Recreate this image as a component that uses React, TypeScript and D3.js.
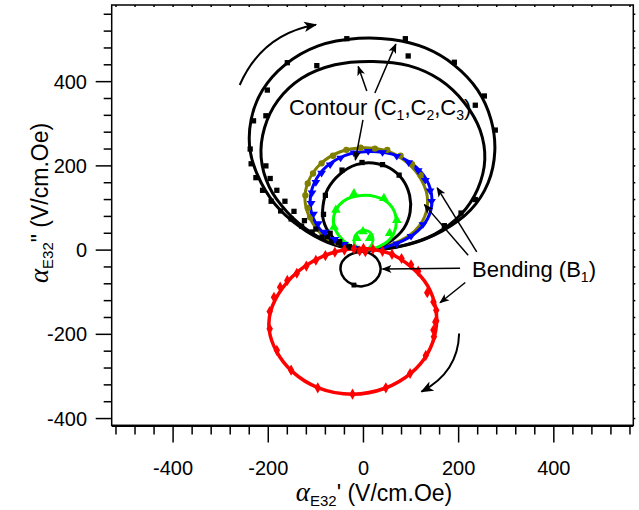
import React from 'react';
import * as d3 from 'd3';

type P = [number, number];

// contour modes: fitted loops (lines) and measured points (markers)
const c1Line: P[] = [[0, 0], [-60, 12], [-120, 45], [-175, 95], [-215, 160], [-238, 235], [-236, 310], [-212, 380], [-165, 440], [-95, 485], [-10, 503], [60, 500], [130, 480], [190, 440], [240, 380], [268, 310], [276, 235], [262, 160], [225, 95], [165, 45], [90, 12]];
const c2Line: P[] = [[0, 0], [-55, 12], [-110, 42], [-160, 90], [-198, 150], [-215, 220], [-208, 290], [-180, 355], [-130, 408], [-60, 440], [20, 448], [95, 438], [160, 405], [212, 350], [245, 285], [255, 215], [240, 145], [205, 85], [150, 38], [80, 10]];
const c12Pts: P[] = [[-35, 502], [88, 502], [94, 461], [191, 446], [-98, 438], [-160, 445], [-202, 380], [-205, 319], [-231, 307], [235, 344], [254, 366], [277, 285], [-238, 240], [-236, 205], [-226, 172], [-212, 142], [-194, 116], [-174, 93], [-152, 74], [-130, 57], [-108, 43], [-87, 31], [-67, 21], [-47, 13], [-29, 7], [-13, 3], [-205, 200], [-196, 170], [-182, 142], [-165, 116], [-146, 92], [-124, 70], [-100, 50], [-76, 32], [-52, 18], [-30, 8], [235, 120], [205, 88], [170, 58]];

const olLine: P[] = [[0, 0], [-45, 10], [-85, 35], [-112, 75], [-123, 121], [-115, 165], [-90, 205], [-50, 233], [0, 243], [45, 237], [85, 214], [115, 179], [134, 128], [128, 78], [99, 37], [50, 10]];
const olPts: P[] = [[-117, 100], [-122, 130], [-117, 158], [-106, 182], [-88, 206], [-64, 224], [-36, 238], [-6, 243], [24, 241], [50, 238], [78, 224], [102, 204], [120, 178], [-112, 78]];

const blLine: P[] = [[0, 0], [-45, 12], [-82, 38], [-105, 75], [-112, 117], [-103, 160], [-78, 198], [-38, 225], [10, 234], [60, 228], [102, 205], [132, 168], [144, 120], [135, 75], [105, 37], [55, 10]];
const blPts: P[] = [[-110, 110], [-108, 135], [-100, 160], [-88, 182], [-70, 202], [-48, 218], [-20, 230], [10, 234], [40, 231], [70, 222], [95, 207], [115, 188], [130, 165], [140, 140], [143, 115], [-105, 85], [-95, 62], [-80, 42], [-60, 25], [-40, 13], [125, 60], [100, 32], [70, 14], [-20, 4]];

const c3Line: P[] = [[0, 0], [-40, 10], [-68, 35], [-84, 70], [-85, 105], [-75, 145], [-50, 180], [-15, 203], [20, 207], [55, 195], [82, 168], [97, 130], [98, 90], [85, 52], [58, 22], [30, 6]];
const c3Pts: P[] = [[-45, 190], [-3, 208], [40, 203], [75, 178], [-80, 130], [-84, 85], [-70, 40], [-50, 20], [-30, 8]];

const grLine: P[] = [[0, 0], [-30, 12], [-52, 35], [-63, 65], [-58, 95], [-40, 118], [-10, 129], [25, 127], [52, 112], [67, 85], [68, 55], [55, 25], [30, 7]];
const grSmall: P[] = [[0, 0], [-15, 8], [-20, 25], [-12, 42], [2, 47], [16, 40], [20, 22], [12, 6]];
const grPts: P[] = [[-20, 134], [43, 123], [-58, 95], [-62, 55], [70, 71], [55, 40], [-14, 28], [-1, 44], [13, 28]];

// bending mode
const rdLine: P[] = [[-10, 4], [-70, -8], [-125, -40], [-170, -90], [-195, -145], [-198, -190], [-183, -240], [-150, -288], [-95, -327], [-23, -342], [45, -328], [100, -292], [135, -245], [152, -190], [152, -140], [135, -85], [100, -40], [55, -8]];
const rdPts: P[] = [[-197, -146], [-197, -187], [-188, -112], [-182, -238], [-152, -285], [-96, -327], [-23, -342], [47, -327], [98, -293], [131, -250], [148, -206], [151, -171], [147, -123], [153, -143], [153, -168], [147, -190], [134, -101], [-175, -88], [-160, -72], [-140, -55], [-120, -38], [-100, -24], [-80, -13], [-60, -5], [-40, 0], [-20, 3], [0, 4], [-8, -2], [4, -4], [20, 2], [40, -3], [60, -10], [80, -20], [100, -35], [115, -50]];

const b1Line: P[] = [[-6, -4], [-30, -12], [-45, -28], [-48, -48], [-40, -68], [-22, -82], [-2, -86], [18, -78], [32, -62], [36, -42], [28, -20], [12, -7]];
const b1Pts: P[] = [[-20, -83]];

const xTicks = d3.range(-520, 561, 40);
const yTicks = d3.range(-400, 561, 40);
const xLabels = [-400, -200, 0, 200, 400];
const yLabels = [-400, -200, 0, 200, 400];

// annotation arrows [from, to] in data units
const arrows: [P, P][] = [
  [[7, 378], [-11, 436]],
  [[24, 373], [68, 489]],
  [[-1, 309], [-17, 214]],
  [[220, -12], [128, 108]],
  [[238, -4], [155, 148]],
  [[203, -43], [40, -45]],
  [[214, -77], [161, -125]],
];

const W = 639, H = 510;
const x = d3.scaleLinear().domain([-529, 567]).range([111.7, 633.3]);
const y = d3.scaleLinear().domain([-416, 582]).range([425.3, 5]);

const loop = d3.line<P>().x(d => x(d[0])).y(d => y(d[1])).curve(d3.curveCatmullRomClosed.alpha(0.5));
const curved = (a: P, c: P, b: P) => `M${x(a[0])},${y(a[1])} Q${x(c[0])},${y(c[1])} ${x(b[0])},${y(b[1])}`;

const sym = (type: d3.SymbolType, size: number) => d3.symbol().type(type).size(size)() as string;

const Markers = ({ pts, type, size, color }: { pts: P[]; type: d3.SymbolType; size: number; color: string }) => (
  <g fill={color}>
    {pts.map((d, i) => (
      <path key={i} d={sym(type, size)} transform={`translate(${x(d[0])},${y(d[1])})`} />
    ))}
  </g>
);

const triDown = { draw(ctx: any, size: number) { const s = Math.sqrt(size) * 0.7; ctx.moveTo(-s, -s * 0.6); ctx.lineTo(s, -s * 0.6); ctx.lineTo(0, s * 0.9); ctx.closePath(); } };

export default function App() {
  const font = 'Arial, "Liberation Sans", sans-serif';
  const x0 = x.range()[0], x1 = x.range()[1], y0 = y.range()[1], y1 = y.range()[0];
  return (
    <svg width={W} height={H} style={{ position: 'absolute', left: 0, top: 0, background: '#fff' }} fontFamily={font}>
      <defs>
        <marker id="ah" viewBox="0 0 10 10" refX="9" refY="5" markerWidth="10" markerHeight="10" markerUnits="userSpaceOnUse" orient="auto">
          <path d="M0,1 L10,5 L0,9 L2.5,5 Z" fill="#000" />
        </marker>
        <marker id="ah2" viewBox="0 0 10 10" refX="9" refY="5" markerWidth="13" markerHeight="13" markerUnits="userSpaceOnUse" orient="auto">
          <path d="M0,1 L10,5 L0,9 L2.5,5 Z" fill="#000" />
        </marker>
      </defs>

      {/* loops */}
      <g fill="none" strokeLinejoin="round">
        <path d={loop(c1Line)!} stroke="#000" strokeWidth={3} />
        <path d={loop(c2Line)!} stroke="#000" strokeWidth={3} />
        <path d={loop(olLine)!} stroke="#808000" strokeWidth={3} />
        <path d={loop(blLine)!} stroke="#0000ff" strokeWidth={3} />
        <path d={loop(c3Line)!} stroke="#000" strokeWidth={3} />
        <path d={loop(grLine)!} stroke="#00ff00" strokeWidth={3} />
        <path d={loop(grSmall)!} stroke="#00ff00" strokeWidth={2.5} />
        <path d={loop(rdLine)!} stroke="#ff0000" strokeWidth={3.5} />
        <path d={loop(b1Line)!} stroke="#000" strokeWidth={2.5} />
      </g>
      <Markers pts={c12Pts} type={d3.symbolSquare} size={28} color="#000" />
      <Markers pts={olPts} type={d3.symbolCircle} size={32} color="#808000" />
      <Markers pts={blPts} type={triDown as any} size={40} color="#0000ff" />
      <Markers pts={c3Pts} type={d3.symbolSquare} size={28} color="#000" />
      <Markers pts={grPts} type={d3.symbolTriangle} size={40} color="#00ff00" />
      <Markers pts={rdPts} type={d3.symbolDiamond} size={36} color="#ff0000" />
      <Markers pts={b1Pts} type={d3.symbolSquare} size={24} color="#000" />

      {/* frame */}
      <rect x={x0} y={y0} width={x1 - x0} height={y1 - y0} fill="none" stroke="#000" strokeWidth={1.5} />
      {/* bottom axis */}
      <line x1={x0} x2={x1} y1={426.5} y2={426.5} stroke="#000" strokeWidth={1.2} />
      {xTicks.map(t => (
        <g key={t}>
          <line x1={x(t)} x2={x(t)} y1={426.5} y2={426.5 + (t % 200 === 0 ? 16 : 8)} stroke="#000" strokeWidth={1.5} />
          <line x1={x(t)} x2={x(t)} y1={y0} y2={y0 + 2} stroke="#000" strokeWidth={1.5} />
        </g>
      ))}
      {xLabels.map(t => (
        <text key={t} x={x(t)} y={475} textAnchor="middle" fontSize={20}>{t}</text>
      ))}
      {/* left axis */}
      {yTicks.map(t => (
        <g key={t}>
          <line x1={x0} x2={x0 - (t % 200 === 0 ? 16 : 8)} y1={y(t)} y2={y(t)} stroke="#000" strokeWidth={1.5} />
          <line x1={x1} x2={x1 + 2} y1={y(t)} y2={y(t)} stroke="#000" strokeWidth={1.5} />
        </g>
      ))}
      {yLabels.map(t => (
        <text key={t} x={87} y={y(t)} textAnchor="end" dominantBaseline="central" fontSize={20}>{t}</text>
      ))}

      {/* axis titles */}
      <text x={374} y={501} textAnchor="middle" fontSize={23}>
        <tspan fontFamily='"Liberation Serif", serif' fontStyle="italic" fontSize={27}>α</tspan>
        <tspan fontSize={15} dy={5}>E32</tspan>
        <tspan dy={-5}>' (V/cm.Oe)</tspan>
      </text>
      <text transform="translate(48,203) rotate(-90)" textAnchor="middle" fontSize={23}>
        <tspan fontFamily='"Liberation Serif", serif' fontStyle="italic" fontSize={27}>α</tspan>
        <tspan fontSize={15} dy={5}>E32</tspan>
        <tspan dy={-5}>" (V/cm.Oe)</tspan>
      </text>

      {/* annotations */}
      <g stroke="#000" strokeWidth={1.5} fill="none">
        {arrows.map(([a, b], i) => (
          <line key={i} x1={x(a[0])} y1={y(a[1])} x2={x(b[0])} y2={y(b[1])} markerEnd="url(#ah)" />
        ))}
        <path d={curved([-260, 392], [-213, 513], [-100, 535])} strokeWidth={2} markerEnd="url(#ah2)" />
        <path d={curved([201, -198], [199, -290], [122, -336])} strokeWidth={2} markerEnd="url(#ah2)" />
      </g>
      <text x={289} y={114.5} fontSize={22}>
        Contour (C<tspan fontSize={14} dy={5}>1</tspan>
        <tspan dy={-5}>,C</tspan><tspan fontSize={14} dy={5}>2</tspan>
        <tspan dy={-5}>,C</tspan><tspan fontSize={14} dy={5}>3</tspan>
        <tspan dy={-5}>)</tspan>
      </text>
      <text x={472} y={277} fontSize={22}>
        Bending (B<tspan fontSize={14} dy={5}>1</tspan>
        <tspan dy={-5}>)</tspan>
      </text>
    </svg>
  );
}
